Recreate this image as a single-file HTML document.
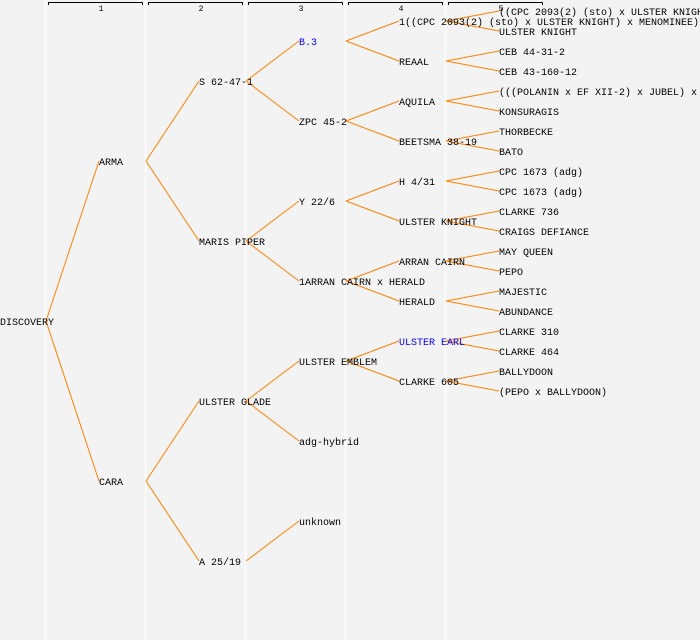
<!DOCTYPE html>
<html><head><meta charset="utf-8"><style>
html,body{margin:0;padding:0;background:#f3f3f3;}
svg{display:block;}
text{font-family:"Liberation Mono","DejaVu Sans Mono",monospace;font-size:10px;fill:#000;}
</style></head><body>
<svg width="700" height="640" viewBox="0 0 700 640" xmlns="http://www.w3.org/2000/svg">
<rect width="700" height="640" fill="#f3f3f3"/>
<g stroke="#ffffff" stroke-width="1.5">
<line x1="45.5" y1="0" x2="45.5" y2="640"/><line x1="145.5" y1="0" x2="145.5" y2="640"/><line x1="245.5" y1="0" x2="245.5" y2="640"/><line x1="345.5" y1="0" x2="345.5" y2="640"/><line x1="445.5" y1="0" x2="445.5" y2="640"/>
</g>
<g stroke="#000" stroke-width="1" fill="none">
<path d="M48.5,5V2.5H142.5V5"/><path d="M148.5,5V2.5H242.5V5"/><path d="M248.5,5V2.5H342.5V5"/><path d="M348.5,5V2.5H442.5V5"/><path d="M448.5,5V2.5H542.5V5"/>
</g>
<g text-anchor="middle">
<text x="101" y="11" style="font-size:8px">1</text><text x="201" y="11" style="font-size:8px">2</text><text x="301" y="11" style="font-size:8px">3</text><text x="401" y="11" style="font-size:8px">4</text><text x="501" y="11" style="font-size:8px">5</text>
</g>
<g stroke="#ff8000" stroke-width="1" fill="none">
<path d="M46,321L99,161M46,321L99,481"/>
<path d="M146,161L199,81M146,161L199,241M146,481L199,401M146,481L199,561"/>
<path d="M246,81L299,41M246,81L299,121M246,241L299,201M246,241L299,281M246,401L299,361M246,401L299,441M246,561L299,521"/>
<path d="M346,41L399,21M346,41L399,61M346,121L399,101M346,121L399,141M346,201L399,181M346,201L399,221M346,281L399,261M346,281L399,301M346,361L399,341M346,361L399,381"/>
<path d="M446,21L499,11M446,21L499,31M446,61L499,51M446,61L499,71M446,101L499,91M446,101L499,111M446,141L499,131M446,141L499,151M446,181L499,171M446,181L499,191M446,221L499,211M446,221L499,231M446,261L499,251M446,261L499,271M446,301L499,291M446,301L499,311M446,341L499,331M446,341L499,351M446,381L499,371M446,381L499,391"/>
</g>
<g transform="translate(0,-1)">
<text x="0" y="326">DISCOVERY</text>
<text x="99" y="166">ARMA</text>
<text x="99" y="486">CARA</text>
<text x="199" y="86">S 62-47-1</text>
<text x="199" y="246">MARIS PIPER</text>
<text x="199" y="406">ULSTER GLADE</text>
<text x="199" y="566">A 25/19</text>
<text x="299" y="46" style="fill:#0000ff">B.3</text>
<text x="299" y="126">ZPC 45-2</text>
<text x="299" y="206">Y 22/6</text>
<text x="299" y="286">1ARRAN CAIRN x HERALD</text>
<text x="299" y="366">ULSTER EMBLEM</text>
<text x="299" y="446">adg-hybrid</text>
<text x="299" y="526">unknown</text>
<text x="399" y="26">1((CPC 2093(2) (sto) x ULSTER KNIGHT) x MENOMINEE)</text>
<text x="399" y="66">REAAL</text>
<text x="399" y="106">AQUILA</text>
<text x="399" y="146">BEETSMA 38-19</text>
<text x="399" y="186">H 4/31</text>
<text x="399" y="226">ULSTER KNIGHT</text>
<text x="399" y="266">ARRAN CAIRN</text>
<text x="399" y="306">HERALD</text>
<text x="399" y="346" style="fill:#0000ff">ULSTER EARL</text>
<text x="399" y="386">CLARKE 605</text>
<text x="499" y="16">((CPC 2093(2) (sto) x ULSTER KNIGHT) x MENOMINEE)</text>
<text x="499" y="36">ULSTER KNIGHT</text>
<text x="499" y="56">CEB 44-31-2</text>
<text x="499" y="76">CEB 43-160-12</text>
<text x="499" y="96">(((POLANIN x EF XII-2) x JUBEL) x KONSURAGIS)</text>
<text x="499" y="116">KONSURAGIS</text>
<text x="499" y="136">THORBECKE</text>
<text x="499" y="156">BATO</text>
<text x="499" y="176">CPC 1673 (adg)</text>
<text x="499" y="196">CPC 1673 (adg)</text>
<text x="499" y="216">CLARKE 736</text>
<text x="499" y="236">CRAIGS DEFIANCE</text>
<text x="499" y="256">MAY QUEEN</text>
<text x="499" y="276">PEPO</text>
<text x="499" y="296">MAJESTIC</text>
<text x="499" y="316">ABUNDANCE</text>
<text x="499" y="336">CLARKE 310</text>
<text x="499" y="356">CLARKE 464</text>
<text x="499" y="376">BALLYDOON</text>
<text x="499" y="396">(PEPO x BALLYDOON)</text>
</g>
</svg>
</body></html>
